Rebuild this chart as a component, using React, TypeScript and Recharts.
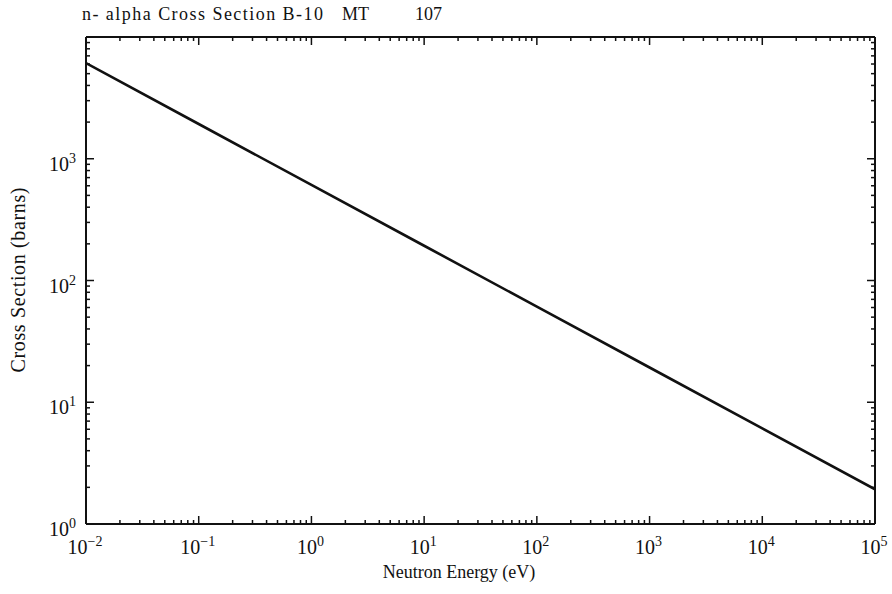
import React from "react";
import { Line, LineChart, XAxis, YAxis } from "recharts";

// energies (eV) and n-alpha cross section (barns)
const energies = [0.01, 0.1, 1, 10, 100, 1000, 10000, 100000];
const sigma = [6100, 1930, 610, 193, 61, 19.3, 6.1, 1.93];

const xDecades = [0.01, 0.1, 1, 10, 100, 1000, 10000, 100000];
const yDecades = [1, 10, 100, 1000, 10000];
const minorSteps = [2, 3, 4, 5, 6, 7, 8, 9];

const data = energies.map((e, i) => ({ e, s: sigma[i] }));

const withMinor = (decades: number[]) => {
  const out: number[] = [];
  decades.forEach((d, i) => {
    out.push(d);
    if (i < decades.length - 1) minorSteps.forEach((m) => out.push(d * m));
  });
  return out;
};

const xTicks = withMinor(xDecades);
const yTicks = withMinor(yDecades);

const FONT = "Liberation Serif, Times New Roman, serif";
const MAJOR = 8;
const MINOR = 4;
const INK = "#111";

const isDecade = (v: number) => Math.abs(Math.log10(v) - Math.round(Math.log10(v))) < 1e-9;

function Pow({ x, y, v, anchor }: { x: number; y: number; v: number; anchor: "middle" | "end" }) {
  const exp = Math.round(Math.log10(v));
  const expText = exp < 0 ? "\u2212" + Math.abs(exp) : String(exp);
  return (
    <text x={x} y={y} textAnchor={anchor} style={{ fontFamily: FONT }} fill={INK}>
      <tspan fontSize={20}>10</tspan>
      <tspan fontSize={14} dy={-8}>{expText}</tspan>
    </text>
  );
}

function Tick(props: any) {
  const { x, y, payload, side } = props;
  const v = payload.value;
  const major = isDecade(v);
  const len = major ? MAJOR : MINOR;
  let line = null;
  let label = null;
  if (side === "bottom") {
    line = <line x1={x} y1={y} x2={x} y2={y - len} stroke={INK} strokeWidth={1.5} />;
    if (major) label = <Pow x={x - 1} y={y + 30} v={v} anchor="middle" />;
  } else if (side === "top") {
    line = <line x1={x} y1={y} x2={x} y2={y + len} stroke={INK} strokeWidth={1.5} />;
  } else if (side === "left") {
    line = <line x1={x} y1={y} x2={x + len} y2={y} stroke={INK} strokeWidth={1.5} />;
    if (major && v < 10000) label = <Pow x={x - 10} y={y + 12} v={v} anchor="end" />;
  } else {
    line = <line x1={x} y1={y} x2={x - len} y2={y} stroke={INK} strokeWidth={1.5} />;
  }
  return (
    <g>
      {line}
      {label}
    </g>
  );
}

export default function App() {
  return (
    <div style={{ position: "absolute", left: 0, top: 0, width: 892, height: 594, background: "#fff" }}>
      <LineChart width={892} height={594} data={data} margin={{ top: 27, right: 7, bottom: 0, left: 0 }}>
        <XAxis
          xAxisId="b"
          dataKey="e"
          type="number"
          scale="log"
          domain={[0.01, 100000]}
          allowDataOverflow
          ticks={xTicks}
          interval={0}
          height={70}
          tickSize={0}
          tickMargin={0}
          tickLine={false}
          axisLine={{ stroke: INK, strokeWidth: 2 }}
          tick={(p: any) => <Tick {...p} side="bottom" />}
        />
        <XAxis
          xAxisId="t"
          orientation="top"
          dataKey="e"
          type="number"
          scale="log"
          domain={[0.01, 100000]}
          allowDataOverflow
          ticks={xTicks}
          interval={0}
          height={10}
          tickSize={0}
          tickMargin={0}
          tickLine={false}
          axisLine={{ stroke: INK, strokeWidth: 2 }}
          tick={(p: any) => <Tick {...p} side="top" />}
        />
        <YAxis
          yAxisId="l"
          type="number"
          scale="log"
          domain={[1, 10000]}
          allowDataOverflow
          ticks={yTicks}
          interval={0}
          width={86}
          tickSize={0}
          tickMargin={0}
          tickLine={false}
          axisLine={{ stroke: INK, strokeWidth: 2 }}
          tick={(p: any) => <Tick {...p} side="left" />}
        />
        <YAxis
          yAxisId="r"
          orientation="right"
          type="number"
          scale="log"
          domain={[1, 10000]}
          allowDataOverflow
          ticks={yTicks}
          interval={0}
          width={10}
          tickSize={0}
          tickMargin={0}
          tickLine={false}
          axisLine={{ stroke: INK, strokeWidth: 2 }}
          tick={(p: any) => <Tick {...p} side="right" />}
        />
        <Line
          xAxisId="b"
          yAxisId="l"
          type="linear"
          dataKey="s"
          stroke={INK}
          strokeWidth={2.6}
          dot={false}
          isAnimationActive={false}
        />
      </LineChart>
      <svg
        width={892}
        height={594}
        style={{ position: "absolute", left: 0, top: 0, pointerEvents: "none" }}
      >
        <g style={{ fontFamily: FONT }} fill={INK}>
          <text x={82} y={20} fontSize={18} textLength={241}>n- alpha Cross Section B-10</text>
          <text x={342} y={20} fontSize={18}>MT</text>
          <text x={415} y={20} fontSize={18}>107</text>
          <text x={459} y={578} fontSize={18} textAnchor="middle">Neutron Energy (eV)</text>
          <text
            x={25}
            y={280}
            fontSize={20}
            textAnchor="middle"
            textLength={185}
            transform="rotate(-90 25 280)"
          >
            Cross Section (barns)
          </text>
        </g>
      </svg>
    </div>
  );
}
